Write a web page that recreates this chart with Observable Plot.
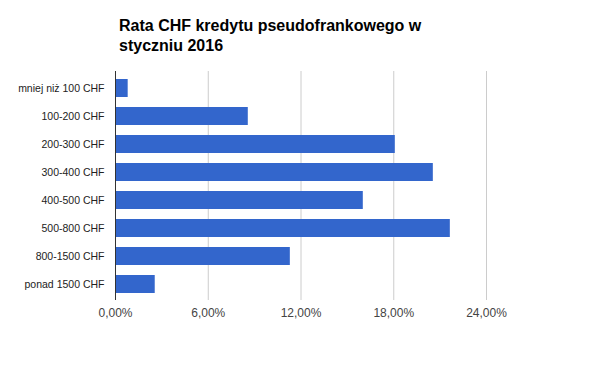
<!DOCTYPE html>
<html>
<head>
<meta charset="utf-8">
<script src="https://cdn.jsdelivr.net/npm/d3@7"></script>
<script src="https://cdn.jsdelivr.net/npm/@observablehq/plot@0.6"></script>
<style>
  html, body { margin: 0; padding: 0; background: #fff; }
  #title {
    font-family: Arial, "Liberation Sans", sans-serif;
    font-weight: bold;
    font-size: 16px;
    line-height: 20px;
    color: #000;
    padding: 16px 0 0 119px;
    height: 40px;
  }
  svg { display: block; }
</style>
</head>
<body>
<div id="title">Rata CHF kredytu pseudofrankowego w<br>styczniu 2016</div>
<div id="chart"></div>
<script>
const categories = ["mniej niż 100 CHF", "100-200 CHF", "200-300 CHF", "300-400 CHF", "400-500 CHF", "500-800 CHF", "800-1500 CHF", "ponad 1500 CHF"];
const values = [0.82, 8.59, 18.10, 20.56, 16.03, 21.66, 11.31, 2.57];
const xTicks = [0, 6, 12, 18, 24];

const data = categories.map((c, i) => ({category: c, value: values[i]}));
const fmt = d => d.toFixed(2).replace(".", ",") + "%";

const chart = Plot.plot({
  width: 600,
  height: 315,
  marginLeft: 115,
  marginRight: 114,
  marginTop: 15,
  marginBottom: 71,
  style: {fontFamily: "Arial, 'Liberation Sans', sans-serif", fontSize: "11px", color: "#222"},
  x: {domain: [0, 24], ticks: xTicks, tickFormat: fmt, label: null, tickSize: 0, tickPadding: 9},
  y: {domain: categories, paddingInner: 0.367, paddingOuter: 0.211, label: null, tickSize: 0, tickPadding: 11},
  marks: [
    Plot.ruleX(xTicks.filter(d => d > 0), {stroke: "#cccccc", strokeWidth: 1}),
    Plot.barX(data, {x: "value", y: "category", fill: "#3366cc"}),
    Plot.ruleX([0], {stroke: "#333333", strokeWidth: 1}),
    Plot.axisY({tickSize: 0, tickPadding: 11, fontSize: 10.5, label: null}),
    Plot.axisX({ticks: xTicks, tickFormat: fmt, tickSize: 0, tickPadding: 8, fontSize: 12, label: null, fill: "#444"})
  ]
});
document.getElementById("chart").appendChild(chart);
</script>
</body>
</html>
